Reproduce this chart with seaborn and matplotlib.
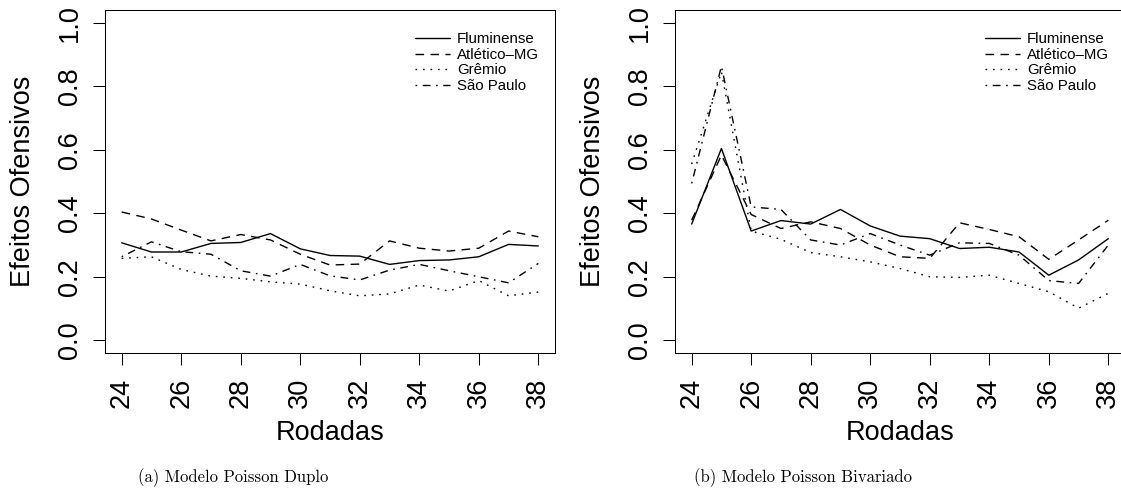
import matplotlib
matplotlib.use("Agg")
import matplotlib.pyplot as plt
import seaborn as sns
import pandas as pd
import numpy as np
from matplotlib.ticker import FixedLocator, FormatStrFormatter

# ---------------- data ----------------
rodadas = list(range(24, 39))
times = ["Fluminense", "Atlético\u2013MG", "Grêmio", "São Paulo"]

# (a) Modelo Poisson Duplo
duplo_flu = [0.307, 0.278, 0.278, 0.305, 0.308, 0.336, 0.288, 0.267, 0.265, 0.239, 0.251, 0.253, 0.263, 0.302, 0.297]
duplo_cam = [0.404, 0.382, 0.347, 0.313, 0.333, 0.316, 0.271, 0.237, 0.240, 0.313, 0.290, 0.281, 0.290, 0.344, 0.326]
duplo_gre = [0.258, 0.263, 0.223, 0.202, 0.195, 0.184, 0.177, 0.156, 0.140, 0.146, 0.174, 0.155, 0.188, 0.140, 0.152]
duplo_spa = [0.263, 0.310, 0.279, 0.271, 0.219, 0.202, 0.239, 0.203, 0.190, 0.221, 0.239, 0.219, 0.200, 0.181, 0.242]

# (b) Modelo Poisson Bivariado
biv_flu = [0.366, 0.604, 0.344, 0.377, 0.366, 0.412, 0.360, 0.328, 0.320, 0.289, 0.293, 0.278, 0.205, 0.253, 0.320]
biv_cam = [0.378, 0.583, 0.396, 0.352, 0.373, 0.352, 0.300, 0.263, 0.258, 0.370, 0.349, 0.326, 0.255, 0.316, 0.378]
biv_gre = [0.555, 0.845, 0.344, 0.318, 0.276, 0.263, 0.247, 0.226, 0.200, 0.198, 0.205, 0.179, 0.153, 0.101, 0.148]
biv_spa = [0.494, 0.863, 0.420, 0.412, 0.316, 0.300, 0.336, 0.300, 0.268, 0.307, 0.305, 0.268, 0.188, 0.179, 0.300]

x_ticks = [24, 26, 28, 30, 32, 34, 36, 38]
y_ticks = [0.0, 0.2, 0.4, 0.6, 0.8, 1.0]
x_label = "Rodadas"
y_label = "Efeitos Ofensivos"
captions = ["(a) Modelo Poisson Duplo", "(b) Modelo Poisson Bivariado"]

# ---------------- style ----------------
sns.set_theme(style="ticks")
plt.rcParams["font.family"] = ["Liberation Sans", "DejaVu Sans"]
plt.rcParams["axes.linewidth"] = 0.75

line_styles = {
    times[0]: "-",
    times[1]: (0, (6.2, 4.6)),
    times[2]: (0, (1.2, 4.2)),
    times[3]: (0, (1.2, 4.0, 5.6, 4.0)),
}

panels = [
    [duplo_flu, duplo_cam, duplo_gre, duplo_spa],
    [biv_flu, biv_cam, biv_gre, biv_spa],
]

W, H = 1121, 499
fig = plt.figure(figsize=(W / 100, H / 100), dpi=100)

box_lefts = [105, 675]
box_w, box_top, box_bottom = 450, 10, 353
caption_x = [233, 803]

for p, series in enumerate(panels):
    ax = fig.add_axes([box_lefts[p] / W, (H - box_bottom) / H,
                       box_w / W, (box_bottom - box_top) / H])
    frames = []
    for name, vals in zip(times, series):
        frames.append(pd.DataFrame({"Rodada": rodadas, "Efeito": vals, "Time": name}))
    df = pd.concat(frames, ignore_index=True)
    for name in times:
        sns.lineplot(data=df[df["Time"] == name], x="Rodada", y="Efeito",
                     color="black", linewidth=1.0, linestyle=line_styles[name],
                     label=name, ax=ax, errorbar=None)
    ax.set_xlim(24 - 0.56, 38 + 0.56)
    ax.set_ylim(-0.04, 1.04)
    ax.xaxis.set_major_locator(FixedLocator(x_ticks))
    ax.yaxis.set_major_locator(FixedLocator(y_ticks))
    ax.yaxis.set_major_formatter(FormatStrFormatter("%.1f"))
    ax.tick_params(axis="both", which="major", length=8.6, width=0.75,
                   direction="out", labelsize=19.5, color="black", labelcolor="black")
    ax.tick_params(axis="x", labelrotation=90, pad=9)
    ax.tick_params(axis="y", labelrotation=90, pad=7)
    for lbl in ax.get_yticklabels():
        lbl.set_va("center")
    for s in ax.spines.values():
        s.set_visible(True)
        s.set_color("black")
        s.set_linewidth(0.75)
    ax.set_xlabel(x_label, fontsize=19.5, color="black")
    ax.set_ylabel(y_label, fontsize=19.5, color="black")
    ax.xaxis.set_label_coords(0.5, -0.195)
    ax.yaxis.set_label_coords(-0.153, 0.5)
    leg = ax.legend(loc="upper left", bbox_to_anchor=(0.689, 0.935), frameon=False,
                    fontsize=10.8, handlelength=2.3, handletextpad=0.5,
                    labelspacing=0.1, borderpad=0, borderaxespad=0)
    for t in leg.get_texts():
        t.set_color("black")
    fig.text(caption_x[p] / W, 1 - 478 / H, captions[p], ha="center", va="center",
             fontsize=12, family=["cmr10", "DejaVu Serif"], color="black")

fig.savefig("out.png", dpi=100)
